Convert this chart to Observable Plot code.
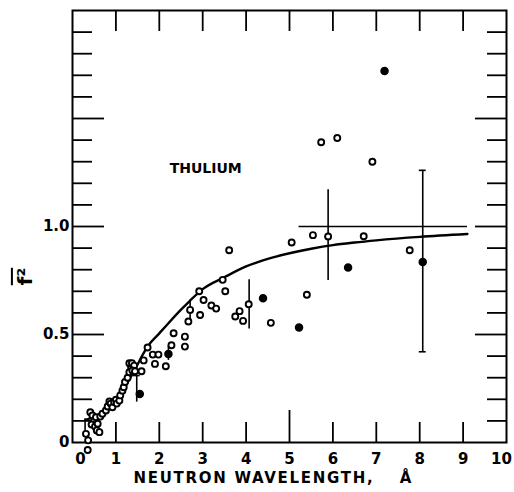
<!DOCTYPE html>
<html><head><meta charset="utf-8">
<script src="https://cdn.jsdelivr.net/npm/d3@7"></script>
<script src="https://cdn.jsdelivr.net/npm/@observablehq/plot@0.6"></script>
<style>body{margin:0;background:#fff}</style>
</head><body><div id="chart"></div>
<script>
// Open-circle measurements (wavelength Å, mean f²)
const openX = [0.31,0.36,0.35,0.41,0.46,0.50,0.44,0.52,0.56,0.62,0.58,0.54,0.64,0.69,0.77,0.81,0.85,0.88,0.92,0.96,1.00,1.02,1.08,1.10,1.15,1.18,1.21,1.27,1.31,1.35,1.31,1.37,1.42,1.38,1.44,1.59,1.64,1.73,1.85,1.98,1.90,2.15,2.28,2.33,2.59,2.59,2.67,2.71,2.94,3.02,2.92,3.20,3.31,3.46,3.52,3.61,3.75,3.85,3.93,4.06,4.57,5.40,5.05,5.54,5.89,6.71,7.77,6.91,5.73,6.10];
const openY = [0.04,0.01,-0.035,0.14,0.125,0.10,0.083,0.074,0.056,0.048,0.087,0.117,0.12,0.133,0.148,0.167,0.19,0.18,0.163,0.187,0.198,0.18,0.194,0.218,0.24,0.256,0.28,0.30,0.325,0.35,0.367,0.367,0.356,0.333,0.33,0.33,0.38,0.44,0.407,0.407,0.364,0.353,0.45,0.506,0.49,0.444,0.56,0.614,0.59,0.66,0.70,0.634,0.62,0.753,0.70,0.89,0.583,0.608,0.563,0.64,0.554,0.684,0.926,0.96,0.954,0.955,0.89,1.30,1.39,1.41];
// Filled-circle measurements
const filledX = [7.19,6.35,8.07,4.39,5.22,2.21,1.55];
const filledY = [1.72,0.81,0.836,0.668,0.532,0.41,0.225];
// Error bars
const errX = [0.29,1.48,2.21,2.71,4.07,5.89,8.07];
const errLo = [0.04,0.187,0.38,0.56,0.526,0.75,0.42];
const errHi = [0.11,0.31,0.447,0.657,0.753,1.17,1.26];
const capX = [1.48,8.07,8.07];
const capY = [0.31,1.26,0.42];
// Horizontal bar at f² = 1
const hbarY = [1.0];
const hbarX1 = [5.22];
const hbarX2 = [9.10];
// Theoretical curve
const curveX = [0.3,0.4,0.6,0.8,1.0,1.2,1.4,1.5,1.6,1.73,2.0,2.2,2.5,2.7,3.0,3.5,4.0,4.5,5.0,5.5,6.0,6.5,7.0,8.0,9.1];
const curveY = [0.105,0.112,0.13,0.16,0.195,0.255,0.325,0.362,0.40,0.444,0.505,0.55,0.615,0.655,0.71,0.765,0.815,0.85,0.876,0.897,0.914,0.926,0.936,0.952,0.965];
// Ticks
const xCenterLabels = [1,2,3,4,5,6,7,8,9];
const xFirstLabel = [0];
const xLastLabel = [10];
const xMinorTicks = [1,2,3,4,6,7,8,9];
const xMajorTicks = [5];
const xTopTicks = [1,2,3,4,5,6,7,8,9];
const yLabelTicks = [0,0.5,1.0];
const yMinorTicks = [0.1,0.2,0.3,0.4,0.6,0.7,0.8,0.9,1.1,1.2,1.3,1.4,1.6,1.7,1.8,1.9];
const yMajorTicks = [0.5,1.0,1.5];

const openPts = openX.map((x,i)=>({x, y:openY[i]}));
const filledPts = filledX.map((x,i)=>({x, y:filledY[i]}));
const errs = errX.map((x,i)=>({x, y1:errLo[i], y2:errHi[i]}));
const caps = capX.map((x,i)=>({x, y:capY[i]}));
const hbar = hbarY.map((y,i)=>({y, x1:hbarX1[i], x2:hbarX2[i]}));
const curve = curveX.map((x,i)=>({x, y:curveY[i]}));

const chart = Plot.plot({
  width: 514, height: 492,
  marginLeft: 72, marginRight: 8, marginTop: 10, marginBottom: 50,
  x: {domain: [0,10]},
  y: {domain: [0,2]},
  style: {fontFamily: "DejaVu Sans", fontWeight: "bold", fontSize: "15px", background: "#fff", color: "#000"},
  marks: [
    Plot.frame({stroke: "#000", strokeWidth: 2}),
    Plot.axisY({anchor: "left", ticks: yMinorTicks, tickSize: -20, tickFormat: () => "", label: null, strokeWidth: 1.8}),
    Plot.axisY({anchor: "left", ticks: yMajorTicks, tickSize: -32, tickFormat: () => "", label: null, strokeWidth: 1.8}),
    Plot.axisY({anchor: "right", ticks: yMinorTicks, tickSize: -20, tickFormat: () => "", label: null, strokeWidth: 1.8}),
    Plot.axisY({anchor: "right", ticks: yMajorTicks, tickSize: -32, tickFormat: () => "", label: null, strokeWidth: 1.8}),
    Plot.axisY({anchor: "left", ticks: yLabelTicks, tickSize: 0, tickPadding: 3, tickFormat: d => d === 0 ? "0" : d.toFixed(1), label: null}),
    Plot.axisX({anchor: "bottom", ticks: xMinorTicks, tickSize: -20, tickFormat: () => "", label: null, strokeWidth: 1.8}),
    Plot.axisX({anchor: "bottom", ticks: xMajorTicks, tickSize: -32, tickFormat: () => "", label: null, strokeWidth: 1.8}),
    Plot.axisX({anchor: "top", ticks: xTopTicks, tickSize: -20, tickFormat: () => "", label: null, strokeWidth: 1.8}),
    Plot.axisX({anchor: "bottom", ticks: xCenterLabels, tickSize: 0, tickPadding: 11, tickFormat: d => String(d), label: null}),
    Plot.axisX({anchor: "bottom", ticks: xFirstLabel, tickSize: 0, tickPadding: 11, dx: 8, tickFormat: d => String(d), label: null}),
    Plot.axisX({anchor: "bottom", ticks: xLastLabel, tickSize: 0, tickPadding: 11, dx: -5, tickFormat: d => String(d), label: null}),
    Plot.line(curve, {x: "x", y: "y", curve: "monotone-x", stroke: "#000", strokeWidth: 2.4}),
    Plot.ruleX(errs, {x: "x", y1: "y1", y2: "y2", stroke: "#000", strokeWidth: 1.6}),
    Plot.ruleY(caps, {y: "y", x1: d => d.x - 0.08, x2: d => d.x + 0.08, stroke: "#000", strokeWidth: 1.6}),
    Plot.ruleY(hbar, {y: "y", x1: "x1", x2: "x2", stroke: "#000", strokeWidth: 1.6}),
    Plot.dot(openPts, {x: "x", y: "y", r: 3, fill: "#fff", stroke: "#000", strokeWidth: 1.9}),
    Plot.dot(filledPts, {x: "x", y: "y", r: 3.5, fill: "#000", stroke: "#000"}),
    Plot.text(["THULIUM"], {x: () => 3.07, y: () => 1.268, fontSize: 14, fontWeight: "bold"}),
    Plot.text(["f²"], {frameAnchor: "left", dx: -47, dy: 50, rotate: -90, textAnchor: "middle", fontSize: 20}),
    Plot.text(["NEUTRON WAVELENGTH,"], {frameAnchor: "bottom-left", dx: 61, dy: 40, textAnchor: "start", fontSize: 15}),
    Plot.text(["Å"], {frameAnchor: "bottom-left", dx: 333, dy: 40, textAnchor: "middle", fontSize: 15})
  ]
});
d3.select(chart).selectAll("text").each(function() {
  const t = this.textContent;
  if (t === "f²") this.setAttribute("text-decoration", "overline");
  if (t === "NEUTRON WAVELENGTH,") this.setAttribute("letter-spacing", "1.7");
});
document.getElementById("chart").appendChild(chart);
</script>
</body></html>
